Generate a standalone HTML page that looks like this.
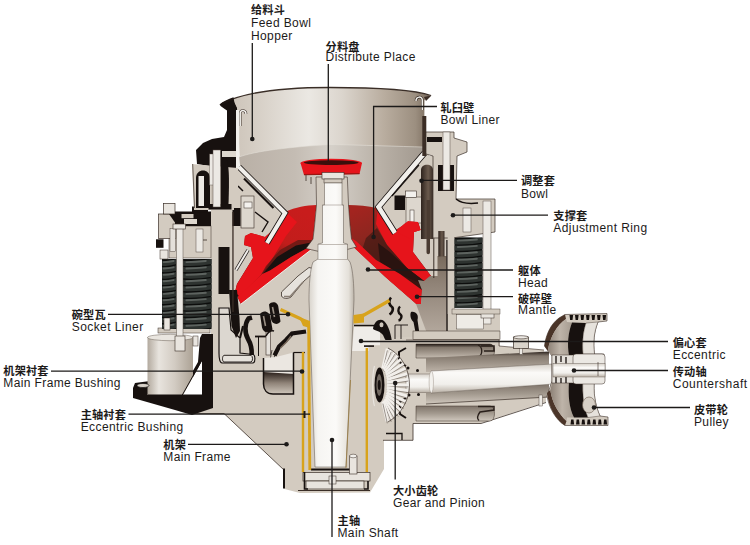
<!DOCTYPE html>
<html><head><meta charset="utf-8"><title>Cone Crusher</title>
<style>
html,body{margin:0;padding:0;background:#fff;}
body{width:750px;height:545px;overflow:hidden;font-family:"Liberation Sans",sans-serif;}
svg{display:block}
text{font-family:"Liberation Sans",sans-serif;fill:#1c1a19;}
text.cjk{font-family:"Liberation Sans","Noto Sans CJK SC",sans-serif;font-weight:bold;font-size:11.2px;fill:#1c1a19;}
</style></head><body>
<svg width="750" height="545" viewBox="0 0 750 545">
<defs>

<linearGradient id="gHop" x1="0" x2="1" y1="0" y2="0">
 <stop offset="0" stop-color="#c9c0b5"/><stop offset="0.12" stop-color="#d2cac0"/>
 <stop offset="0.42" stop-color="#ebe8e3"/><stop offset="0.58" stop-color="#dbd5cd"/>
 <stop offset="0.78" stop-color="#b9ad9f"/><stop offset="0.93" stop-color="#9c8f80"/><stop offset="1" stop-color="#78695b"/>
</linearGradient>
<linearGradient id="gCone" x1="0" x2="1" y1="0" y2="0">
 <stop offset="0" stop-color="#b9b0a6"/><stop offset="0.3" stop-color="#c4bcb3"/>
 <stop offset="0.5" stop-color="#d5d0c9"/><stop offset="0.75" stop-color="#bab2a8"/><stop offset="1" stop-color="#a1988e"/>
</linearGradient>
<linearGradient id="gShaft" x1="0" x2="1" y1="0" y2="0">
 <stop offset="0" stop-color="#d9d4cc"/><stop offset="0.2" stop-color="#f6f5f2"/>
 <stop offset="0.6" stop-color="#fbfaf8"/><stop offset="0.88" stop-color="#e4e0d9"/><stop offset="1" stop-color="#bdb5aa"/>
</linearGradient>
<linearGradient id="gCyl" x1="0" x2="1" y1="0" y2="0">
 <stop offset="0" stop-color="#b3aa9f"/><stop offset="0.25" stop-color="#e8e4de"/>
 <stop offset="0.6" stop-color="#d2cbc2"/><stop offset="1" stop-color="#aca295"/>
</linearGradient>
<linearGradient id="gCS" x1="0" x2="0" y1="0" y2="1">
 <stop offset="0" stop-color="#d6d0c8"/><stop offset="0.3" stop-color="#fbfaf8"/>
 <stop offset="0.7" stop-color="#f1efeb"/><stop offset="1" stop-color="#b9b0a5"/>
</linearGradient>
<linearGradient id="gCav" x1="0" x2="0" y1="0" y2="1">
 <stop offset="0" stop-color="#2a201b"/><stop offset="0.5" stop-color="#8f8378"/><stop offset="1" stop-color="#cfc7bc"/>
</linearGradient>
<linearGradient id="gCavR" x1="0" x2="0" y1="1" y2="0">
 <stop offset="0" stop-color="#2a201b"/><stop offset="0.5" stop-color="#8f8378"/><stop offset="1" stop-color="#cfc7bc"/>
</linearGradient>
<linearGradient id="gRedL" x1="0.7" x2="0.25" y1="0" y2="1">
 <stop offset="0" stop-color="#c81c1c"/><stop offset="0.35" stop-color="#c21d1b"/><stop offset="0.62" stop-color="#6b1c15"/><stop offset="0.8" stop-color="#3a130f"/>
</linearGradient>
<linearGradient id="gRedR" x1="0.2" x2="0.6" y1="0" y2="1">
 <stop offset="0" stop-color="#a3241f"/><stop offset="0.3" stop-color="#8c261f"/><stop offset="0.55" stop-color="#5a2019"/><stop offset="0.8" stop-color="#3a1510"/>
</linearGradient>
<linearGradient id="gSpring" x1="0" x2="1" y1="0" y2="0">
 <stop offset="0" stop-color="#151515"/><stop offset="0.35" stop-color="#505050"/><stop offset="0.6" stop-color="#2a2a2a"/><stop offset="1" stop-color="#101010"/>
</linearGradient>
<linearGradient id="gBar" x1="0" x2="1" y1="0" y2="0">
 <stop offset="0" stop-color="#2f241e"/><stop offset="0.6" stop-color="#6a5a4d"/><stop offset="1" stop-color="#3a2e27"/>
</linearGradient>
<linearGradient id="gTaupe" x1="0" x2="0" y1="0" y2="1">
 <stop offset="0" stop-color="#786a5c"/><stop offset="0.35" stop-color="#908377"/><stop offset="1" stop-color="#b5aa9f"/>
</linearGradient>

<linearGradient id="gPock" x1="0" x2="0" y1="0" y2="1">
 <stop offset="0" stop-color="#1f1713"/><stop offset="0.25" stop-color="#82776c"/><stop offset="0.7" stop-color="#a99f94"/><stop offset="1" stop-color="#c4bbb0"/>
</linearGradient>
<linearGradient id="gBore" x1="0" x2="0" y1="0" y2="1">
 <stop offset="0" stop-color="#2a201b"/><stop offset="0.22" stop-color="#857a6f"/><stop offset="1" stop-color="#bdb3a8"/>
</linearGradient>
<linearGradient id="gBore2" x1="0" x2="0" y1="0" y2="1">
 <stop offset="0" stop-color="#7f746a"/><stop offset="0.5" stop-color="#a39a8f"/><stop offset="1" stop-color="#d0c8be"/>
</linearGradient>
<linearGradient id="gPulIn" x1="0" x2="1" y1="0" y2="0">
 <stop offset="0" stop-color="#8d8176"/><stop offset="0.5" stop-color="#beb4a9"/><stop offset="1" stop-color="#a59b90"/>
</linearGradient>

</defs>
<rect width="750" height="545" fill="#ffffff"/>
<polygon points="213,336 213,408 195,408 195,413.5 224,413.5 284.5,470.5 284.5,489 300,493 370,492.5 384,469 384,440 413,440 413,423 480,423 540,402 546,396 546,352 500,352 500,313 452,313 452,233 428,233 428,290 233,290 233,336" fill="#d3cbc0" />
<path d="M195,413.5 L224,413.5 L284.5,470.5" fill="none" stroke="#3a2e27" stroke-width="0.8" />
<rect x="211" y="205" width="22" height="135" fill="#d3cbc0" />
<rect x="428" y="156" width="27" height="180" fill="#d3cbc0" />
<polygon points="233,166 239,166 286,212 266,245 233,300" fill="#d3cbc0" />
<polygon points="429,154 424,152 377,207 397,240 429,290" fill="#d3cbc0" />
<path d="M221,104 C245,91 290,87.5 330,87.5 C375,87.5 415,90 430,95.5 L424.5,100 L424,153 L377,208 L284,212 L240,166 L237.5,110 Z" fill="url(#gHop)" />
<path d="M239,157 C255,151 290,147 330,144.5 C360,145 400,146.5 424,147 L424,153 L377,208 L284,212 L240,166 Z" fill="url(#gCone)" />
<path d="M239,157 C255,151 290,147 330,144.5 C360,145 400,146.5 424,147" fill="none" stroke="#e4e0da" stroke-width="0.8" opacity="0.7"/>
<path d="M221,104 C245,91 290,87.5 330,87.5 C375,87.5 415,90 431,95.5" fill="none" stroke="#3a2e27" stroke-width="1.3" />
<polygon points="424,97 431.5,95.5 426,101" fill="#3b2d25" />
<path d="M219.5,104.6 C223,101.5 228,99 233.5,97.3 L234.5,103 L237.5,110.5 L227,110.5 C224,108.5 221,107 219.5,104.6 Z" fill="#1d1512" />
<path d="M240.2,126 L240.2,113 C240.2,109.5 246,109.5 246,114" fill="none" stroke="#3a2e27" stroke-width="2.6" />
<path d="M240.2,126 L240.2,113 C240.2,109.5 246,109.5 246,114" fill="none" stroke="#f2f0ec" stroke-width="1.5" />
<path d="M422.3,110 L422.3,100 C422.3,96 416,96 416,101" fill="none" stroke="#3a2e27" stroke-width="2.6" />
<path d="M422.3,110 L422.3,100 C422.3,96 416,96 416,101" fill="none" stroke="#f2f0ec" stroke-width="1.5" />
<polygon points="233,214 284,214 300,209.5 330,207 360,207.5 377,210 429,210 429,340 233,340" fill="#d3cbc0" />
<path d="M285,212 C296,207 306,205.5 316.5,205 L314.5,226 L313,240 L312,249 L241,304 L237,296 L235,292 L237,284 L253,258 L251,247 L244,245 L245,236 L251,233 L265,237 L273,230 Z" fill="url(#gRedL)" />
<path d="M377,208 C368,206 358,205.3 348,205 L350,225 L351,238 L351,245 L385,277 L416,304 L421,304 L422,290 L424,282 L430,280 L431,276 L413,252 L414,232 L420.5,230 L418,222 L408,221 L402,226 L396,230 Z" fill="url(#gRedR)" />
<polygon points="286,212 297,222 286,236 274,256 262,274 240,297 235,292 237,284 253,258 251,247 244,245 245,236 251,233 265,237 273,230" fill="#e6141b" />
<polygon points="378,207 396,230 402,226 408,221 418,222 420.5,230 414,232 413,252 431,276 430,280 424,281 407,268 387,245 376,224" fill="#e6141b" />
<polygon points="312,240 298,240 280,250 266,266 258,280 270,271 292,258 312,246" fill="#5a1a14" opacity="0.75"/>
<polygon points="311,242.5 296,245.5 277,257 261,276 270,270.5 291,257 311,246" fill="#17110f" />
<polygon points="377,228 387,245 407,268 424,281 424,283 400,274 376,260 362,250 366,238" fill="#4a1b15" opacity="0.8"/>
<polygon points="378,243 390,252 407,268 424,281 421,283.5 400,274.5 380,262" fill="#2a1310" />
<polygon points="313,240 312,249 241,304 237.5,297 262,274 270,270.5 291,257 311,246" fill="#e6141b" />
<polygon points="351,238 356,241 376,260 400,274 422,290 421,304 416,304 385,277 351,245" fill="#e6141b" />
<polygon points="312,249 241,304 245,320 258,340 330,340 330,250" fill="#d3cbc0" />
<polygon points="351,245 385,277 416,304 428,336 330,340 330,250" fill="#cfc7bc" />
<path d="M312,249 L241,304" fill="none" stroke="#efece7" stroke-width="1" />
<path d="M281.5,292 L298,276 L309,267.5 L313,268.5 L312,274 L304,281 L291,297 C288,299 283,299 281.5,296 Z" fill="#e6e2dc" stroke="#3a2e27" stroke-width="0.8" />
<path d="M284,296.5 L290,296.5 L303,282" fill="none" stroke="#8a7f75" stroke-width="1.4" />
<path d="M248,250 L236,270" fill="none" stroke="#17110f" stroke-width="3.4" />
<path d="M248,250 L236,270" fill="none" stroke="#f1efeb" stroke-width="2" />
<path d="M239,167 L285,213 L267,243" fill="none" stroke="#17110f" stroke-width="5.8" />
<path d="M239,167 L285,213 L267,243" fill="none" stroke="#f1efeb" stroke-width="4.2" />
<path d="M244,178.5 L273.5,208" fill="none" stroke="#17110f" stroke-width="2.2" />
<path d="M238,186 L243,191" fill="none" stroke="#17110f" stroke-width="1.5" />
<rect x="241" y="196" width="13" height="32" fill="#ddd7ce" stroke="#3a2e27" stroke-width="0.6" />
<rect x="244" y="202" width="8" height="6" fill="#f3f1ed" stroke="#3a2e27" stroke-width="0.5" />
<rect x="232.5" y="208" width="8" height="18" fill="#17110f" />
<path d="M255,212 L268,222 L262,232" fill="none" stroke="#17110f" stroke-width="1.4" />
<path d="M424.5,153 L378.5,207 L395,233" fill="none" stroke="#17110f" stroke-width="6.2" />
<path d="M424.5,153 L378.5,207 L395,233" fill="none" stroke="#f1efeb" stroke-width="4.6" />
<path d="M392,196 L419,165" fill="none" stroke="#17110f" stroke-width="1.2" />
<rect x="406" y="197" width="19" height="26" fill="#ddd7ce" stroke="#3a2e27" stroke-width="0.5" />
<rect x="405.5" y="191" width="11" height="6.5" fill="#f3f1ed" stroke="#3a2e27" stroke-width="0.6" />
<rect x="394.5" y="195.5" width="10.5" height="14.5" fill="#17110f" />
<rect x="410" y="210" width="4" height="12" fill="#f3f1ed" stroke="#3a2e27" stroke-width="0.5" />
<polygon points="402,226 408,221 418,222 420.5,230 414,232 413,240 396,232" fill="#e6141b" />
<polygon points="316,177 316.5,205 314.5,226 313,239 306,248.5 330,254 356.5,247 351.5,239 350,225 348.5,205 347.3,177" fill="#d3cbc0" stroke="#3a2e27" stroke-width="0.6" />
<polygon points="300.5,163 362,163 359.5,174 304,175" fill="#e6141b" />
<ellipse cx="331.2" cy="163" rx="30.8" ry="4.2" fill="#e6141b"/>
<ellipse cx="331.2" cy="162.6" rx="27.5" ry="2.4" fill="#3c0f0c"/>
<path d="M304,174.7 L359.5,173.7" fill="none" stroke="#9a1613" stroke-width="1.2" />
<rect x="322" y="172.5" width="22" height="6.5" fill="#e9e5df" stroke="#3a2e27" stroke-width="0.6" />
<rect x="324" y="179" width="18" height="4" fill="#d3cbc0" stroke="#3a2e27" stroke-width="0.5" />
<path d="M306,175 L306,181 M311,177 L311,184" fill="none" stroke="#3a2e27" stroke-width="0.8" />
<path d="M219,308 L229,308 L231,330 L240,338 L240,353 L253,354.5 C255.5,355 255.5,362.5 253,363 L222,363 C219.5,362.5 219,358 219,353 Z" fill="#dcd7d0" stroke="#17110f" stroke-width="1.2" />
<path d="M224,355.3 L251,355.3 C253,356 253,361.5 251,362 L224,362 C222,361.5 222,356 224,355.3 Z" fill="#e6e2dc" stroke="#17110f" stroke-width="0.9" />
<polygon points="229,290 237,290 239.5,318 240,331 236,338 231.5,326" fill="#17110f" />
<path d="M252,317.5 L248.5,318.5 C244.5,324 244.5,333 248,339 C251,344 252,349 251.7,355" fill="none" stroke="#17110f" stroke-width="4.6" />
<path d="M243,326 L240,338" fill="none" stroke="#17110f" stroke-width="2" />
<path d="M260,314 C263,309.5 270,311 270.5,318 L272.5,329.5 C270,334 263.5,333.5 262,327.5 Z" fill="#17110f" />
<path d="M269,304.5 C272,300.5 278.5,302 278.5,308 L280.5,321.5 C278,325.5 272,324.5 271,319 Z" fill="#17110f" />
<path d="M263.5,316 L265.5,326" fill="none" stroke="#9a8f84" stroke-width="1.6" />
<path d="M272.5,307 L274.5,317" fill="none" stroke="#9a8f84" stroke-width="1.6" />
<path d="M255,336.5 L266,336.5" fill="none" stroke="#17110f" stroke-width="1.8" />
<rect x="266" y="332" width="4.6" height="23" fill="#e4e0da" stroke="#3a2e27" stroke-width="0.6" />
<path d="M258.5,337 L258.5,356" fill="none" stroke="#17110f" stroke-width="1" />
<path d="M266,336 C268,332 271,330 274,331" fill="none" stroke="#17110f" stroke-width="1.6" />
<path d="M306,331.5 L292,333.5 L286,340 L279,346.5 L274.5,355.5" fill="none" stroke="#17110f" stroke-width="4.2" />
<path d="M291,336 L286.5,342 L280.5,348" fill="none" stroke="#7a6a5c" stroke-width="1.4" />
<path d="M272,350 L270,360 M275,351 L274,361" fill="none" stroke="#17110f" stroke-width="0.7" />
<path d="M263.5,358 L263.5,384 C263.5,390 267,394 273,394 L293.5,394 L293.5,352.5 L276,357 Z" fill="#ebe7e1" />
<path d="M263.5,372 L293.5,374 L293.5,394 L273,394 C267,394 263.5,390 263.5,384 Z" fill="url(#gCav)" />
<path d="M263.5,358 L263.5,384 C263.5,390 267,394 273,394 L293.5,394 L293.5,352.5" fill="none" stroke="#17110f" stroke-width="1.5" />
<path d="M293.5,352.5 L305,352.5" fill="none" stroke="#17110f" stroke-width="1.2" />
<polygon points="354,327 380,327 380,345.3 368.5,345.3 368.5,351 352,351" fill="#efece8" />
<path d="M354,325.5 L380,325.5" fill="none" stroke="#17110f" stroke-width="1.4" />
<path d="M373,329 C374,321 380,318 384,321 C389,326 391,334 392.5,345 C388,345 385,340 383,335 C380,331 376,331 373,329 Z" fill="#17110f" />
<ellipse cx="381.5" cy="324.8" rx="2" ry="2.5" fill="#cfc7bc"/>
<path d="M391,297.5 C388,301 389,305 392,307 C394,309 392,313 389.5,314.5" fill="none" stroke="#17110f" stroke-width="2.6" />
<path d="M400,306.5 C397.5,309 398,313 400.5,314.5 C402.5,316 401,320 398.5,320.5" fill="none" stroke="#17110f" stroke-width="2.4" />
<path d="M411,312 C416,311 419,315 417.5,320 L419.5,334 L416,335 L413.5,322 C411,320 409.5,315 411,312 Z" fill="#17110f" />
<path d="M392.5,345 L392.5,352 L399,356 L399,362" fill="none" stroke="#17110f" stroke-width="2.6" />
<path d="M395,325 L395,339 M401,325 L401,339 M395,325 L408,325" fill="none" stroke="#17110f" stroke-width="0.9" />
<rect x="364" y="345.3" width="10" height="1.6" fill="#17110f" />
<rect x="303" y="472.5" width="67" height="8.5" fill="#e8e4de" stroke="#3a2e27" stroke-width="0.7" />
<rect x="306" y="481" width="58" height="8" fill="#e8e4de" stroke="#3a2e27" stroke-width="0.7" />
<path d="M298,490.5 L370,490.5" fill="none" stroke="#3a2e27" stroke-width="1" />
<path d="M304.5,472 L304.5,489 L308,489 M368,481 L368,489 L364,489" fill="none" stroke="#17110f" stroke-width="1.6" />
<path d="M311,469.5 L350,469.5" fill="none" stroke="#17110f" stroke-width="2" />
<rect x="283" y="468.5" width="2" height="20" fill="#17110f" />
<rect x="349.5" y="456" width="7.5" height="18" fill="#e9e5df" stroke="#3a2e27" stroke-width="0.6" />
<ellipse cx="353.2" cy="456" rx="3.7" ry="1.8" fill="#f1efeb" stroke="#3a2e27" stroke-width="0.5"/>
<rect x="329" y="476" width="7" height="8" fill="#e9e5df" stroke="#3a2e27" stroke-width="0.5" />
<path d="M324.5,183 L342,183 L342,205 L343.5,205 L343.5,243 L347.5,244 L347.5,259 L350,262 C353,270 354,285 354,300 L346,467 L315,467 L309,300 C309,285 310,270 313,262 L318,259 L318,244 L322.5,243 L322.5,205 L324.5,205 Z" fill="url(#gShaft)" stroke="#5b5048" stroke-width="0.5" />
<path d="M318,244.5 L347.5,244.5 M322.5,205 L343.5,205 M318,259.5 L347.5,259.5" fill="none" stroke="#8a7f75" stroke-width="0.5" />
<path d="M280.5,309.5 L300,318.5 L307,323" fill="none" stroke="#d8a31c" stroke-width="3.2" />
<path d="M308.6,321 L309.8,470" fill="none" stroke="#d8a31c" stroke-width="2.8" />
<polygon points="299,317 310,321 310,328 303,326" fill="#d8a31c" />
<path d="M303,352 L303,472" fill="none" stroke="#d8a31c" stroke-width="2.4" />
<path d="M389.5,300.5 L364,315 L356,319.5" fill="none" stroke="#d8a31c" stroke-width="3.2" />
<polygon points="353.5,315 364,313.5 364,322.5 353.5,323.5" fill="#d8a31c" />
<path d="M366.8,348 L366.8,472" fill="none" stroke="#d8a31c" stroke-width="2.4" />
<path d="M350.5,380 L346,468" fill="none" stroke="#9a7a3a" stroke-width="0.8" />
<polygon points="133,388 135,383 150,381 150,395 178,397 198,362 200,338 202,334 213,334 213,408 192,415 175,410 133,398" fill="#17110f" />
<rect x="147.5" y="337" width="45.5" height="58" fill="url(#gCyl)" />
<polygon points="202,361 202,396 182.5,396" fill="#fff" />
<ellipse cx="170.2" cy="337.5" rx="22.7" ry="3.2" fill="#e9e5df" stroke="#6b6057" stroke-width="0.5"/>
<polygon points="202,394.5 202,397 148,397 148,394.5" fill="#17110f" />
<path d="M202.5,359 L182,395.5" fill="none" stroke="#17110f" stroke-width="1" />
<rect x="158" y="328" width="52" height="5" fill="#d3cbc0" stroke="#3a2e27" stroke-width="0.5" />
<ellipse cx="143" cy="385.5" rx="6" ry="2" fill="#d9d3ca" stroke="#000" stroke-width="0.6"/>
<g><clipPath id="cl162"><rect x="162" y="259" width="14.5" height="70"/></clipPath>
<rect x="162" y="259" width="14.5" height="70" fill="#0c0d0c" />
<g clip-path="url(#cl162)"><path d="M161,256.72 Q169.2,257.92 177.5,254.92" fill="none" stroke="#2e3330" stroke-width="4.96"/><path d="M163.7,255.72 Q168.5,255.68 173.6,254.60" fill="none" stroke="#5d635f" stroke-width="1.91" stroke-linecap="round"/><path d="M161,263.08 Q169.2,264.28 177.5,261.28" fill="none" stroke="#2e3330" stroke-width="4.96"/><path d="M163.7,262.09 Q168.5,262.05 173.6,260.97" fill="none" stroke="#5d635f" stroke-width="1.91" stroke-linecap="round"/><path d="M161,269.45 Q169.2,270.65 177.5,267.65" fill="none" stroke="#2e3330" stroke-width="4.96"/><path d="M163.7,268.45 Q168.5,268.41 173.6,267.33" fill="none" stroke="#5d635f" stroke-width="1.91" stroke-linecap="round"/><path d="M161,275.81 Q169.2,277.01 177.5,274.01" fill="none" stroke="#2e3330" stroke-width="4.96"/><path d="M163.7,274.81 Q168.5,274.77 173.6,273.70" fill="none" stroke="#5d635f" stroke-width="1.91" stroke-linecap="round"/><path d="M161,282.17 Q169.2,283.37 177.5,280.37" fill="none" stroke="#2e3330" stroke-width="4.96"/><path d="M163.7,281.18 Q168.5,281.14 173.6,280.06" fill="none" stroke="#5d635f" stroke-width="1.91" stroke-linecap="round"/><path d="M161,288.54 Q169.2,289.74 177.5,286.74" fill="none" stroke="#2e3330" stroke-width="4.96"/><path d="M163.7,287.54 Q168.5,287.50 173.6,286.42" fill="none" stroke="#5d635f" stroke-width="1.91" stroke-linecap="round"/><path d="M161,294.90 Q169.2,296.10 177.5,293.10" fill="none" stroke="#2e3330" stroke-width="4.96"/><path d="M163.7,293.90 Q168.5,293.86 173.6,292.79" fill="none" stroke="#5d635f" stroke-width="1.91" stroke-linecap="round"/><path d="M161,301.26 Q169.2,302.46 177.5,299.46" fill="none" stroke="#2e3330" stroke-width="4.96"/><path d="M163.7,300.27 Q168.5,300.23 173.6,299.15" fill="none" stroke="#5d635f" stroke-width="1.91" stroke-linecap="round"/><path d="M161,307.63 Q169.2,308.83 177.5,305.83" fill="none" stroke="#2e3330" stroke-width="4.96"/><path d="M163.7,306.63 Q168.5,306.59 173.6,305.51" fill="none" stroke="#5d635f" stroke-width="1.91" stroke-linecap="round"/><path d="M161,313.99 Q169.2,315.19 177.5,312.19" fill="none" stroke="#2e3330" stroke-width="4.96"/><path d="M163.7,312.99 Q168.5,312.95 173.6,311.88" fill="none" stroke="#5d635f" stroke-width="1.91" stroke-linecap="round"/><path d="M161,320.35 Q169.2,321.55 177.5,318.55" fill="none" stroke="#2e3330" stroke-width="4.96"/><path d="M163.7,319.36 Q168.5,319.32 173.6,318.24" fill="none" stroke="#5d635f" stroke-width="1.91" stroke-linecap="round"/><path d="M161,326.72 Q169.2,327.92 177.5,324.92" fill="none" stroke="#2e3330" stroke-width="4.96"/><path d="M163.7,325.72 Q168.5,325.68 173.6,324.60" fill="none" stroke="#5d635f" stroke-width="1.91" stroke-linecap="round"/><path d="M161,333.08 Q169.2,334.28 177.5,331.28" fill="none" stroke="#2e3330" stroke-width="4.96"/><path d="M163.7,332.09 Q168.5,332.05 173.6,330.97" fill="none" stroke="#5d635f" stroke-width="1.91" stroke-linecap="round"/></g></g>
<g><clipPath id="cl183"><rect x="183" y="259" width="28.5" height="70"/></clipPath>
<rect x="183" y="259" width="28.5" height="70" fill="#0c0d0c" />
<g clip-path="url(#cl183)"><path d="M182,256.72 Q197.2,257.92 212.5,254.92" fill="none" stroke="#2e3330" stroke-width="4.96"/><path d="M186.4,255.72 Q195.8,255.68 205.8,254.60" fill="none" stroke="#5d635f" stroke-width="1.91" stroke-linecap="round"/><path d="M182,263.08 Q197.2,264.28 212.5,261.28" fill="none" stroke="#2e3330" stroke-width="4.96"/><path d="M186.4,262.09 Q195.8,262.05 205.8,260.97" fill="none" stroke="#5d635f" stroke-width="1.91" stroke-linecap="round"/><path d="M182,269.45 Q197.2,270.65 212.5,267.65" fill="none" stroke="#2e3330" stroke-width="4.96"/><path d="M186.4,268.45 Q195.8,268.41 205.8,267.33" fill="none" stroke="#5d635f" stroke-width="1.91" stroke-linecap="round"/><path d="M182,275.81 Q197.2,277.01 212.5,274.01" fill="none" stroke="#2e3330" stroke-width="4.96"/><path d="M186.4,274.81 Q195.8,274.77 205.8,273.70" fill="none" stroke="#5d635f" stroke-width="1.91" stroke-linecap="round"/><path d="M182,282.17 Q197.2,283.37 212.5,280.37" fill="none" stroke="#2e3330" stroke-width="4.96"/><path d="M186.4,281.18 Q195.8,281.14 205.8,280.06" fill="none" stroke="#5d635f" stroke-width="1.91" stroke-linecap="round"/><path d="M182,288.54 Q197.2,289.74 212.5,286.74" fill="none" stroke="#2e3330" stroke-width="4.96"/><path d="M186.4,287.54 Q195.8,287.50 205.8,286.42" fill="none" stroke="#5d635f" stroke-width="1.91" stroke-linecap="round"/><path d="M182,294.90 Q197.2,296.10 212.5,293.10" fill="none" stroke="#2e3330" stroke-width="4.96"/><path d="M186.4,293.90 Q195.8,293.86 205.8,292.79" fill="none" stroke="#5d635f" stroke-width="1.91" stroke-linecap="round"/><path d="M182,301.26 Q197.2,302.46 212.5,299.46" fill="none" stroke="#2e3330" stroke-width="4.96"/><path d="M186.4,300.27 Q195.8,300.23 205.8,299.15" fill="none" stroke="#5d635f" stroke-width="1.91" stroke-linecap="round"/><path d="M182,307.63 Q197.2,308.83 212.5,305.83" fill="none" stroke="#2e3330" stroke-width="4.96"/><path d="M186.4,306.63 Q195.8,306.59 205.8,305.51" fill="none" stroke="#5d635f" stroke-width="1.91" stroke-linecap="round"/><path d="M182,313.99 Q197.2,315.19 212.5,312.19" fill="none" stroke="#2e3330" stroke-width="4.96"/><path d="M186.4,312.99 Q195.8,312.95 205.8,311.88" fill="none" stroke="#5d635f" stroke-width="1.91" stroke-linecap="round"/><path d="M182,320.35 Q197.2,321.55 212.5,318.55" fill="none" stroke="#2e3330" stroke-width="4.96"/><path d="M186.4,319.36 Q195.8,319.32 205.8,318.24" fill="none" stroke="#5d635f" stroke-width="1.91" stroke-linecap="round"/><path d="M182,326.72 Q197.2,327.92 212.5,324.92" fill="none" stroke="#2e3330" stroke-width="4.96"/><path d="M186.4,325.72 Q195.8,325.68 205.8,324.60" fill="none" stroke="#5d635f" stroke-width="1.91" stroke-linecap="round"/><path d="M182,333.08 Q197.2,334.28 212.5,331.28" fill="none" stroke="#2e3330" stroke-width="4.96"/><path d="M186.4,332.09 Q195.8,332.05 205.8,330.97" fill="none" stroke="#5d635f" stroke-width="1.91" stroke-linecap="round"/></g></g>
<g><clipPath id="cl454"><rect x="454.4" y="237.5" width="28.100000000000023" height="70.5"/></clipPath>
<rect x="454.4" y="237.5" width="28.100000000000023" height="70.5" fill="#0c0d0c" />
<g clip-path="url(#cl454)"><path d="M453.4,235.20 Q468.4,236.40 483.5,233.40" fill="none" stroke="#2e3330" stroke-width="5.00"/><path d="M457.8,234.19 Q467.0,234.15 476.9,233.08" fill="none" stroke="#5d635f" stroke-width="1.92" stroke-linecap="round"/><path d="M453.4,241.60 Q468.4,242.80 483.5,239.80" fill="none" stroke="#2e3330" stroke-width="5.00"/><path d="M457.8,240.60 Q467.0,240.56 476.9,239.49" fill="none" stroke="#5d635f" stroke-width="1.92" stroke-linecap="round"/><path d="M453.4,248.01 Q468.4,249.21 483.5,246.21" fill="none" stroke="#2e3330" stroke-width="5.00"/><path d="M457.8,247.01 Q467.0,246.97 476.9,245.89" fill="none" stroke="#5d635f" stroke-width="1.92" stroke-linecap="round"/><path d="M453.4,254.42 Q468.4,255.62 483.5,252.62" fill="none" stroke="#2e3330" stroke-width="5.00"/><path d="M457.8,253.42 Q467.0,253.38 476.9,252.30" fill="none" stroke="#5d635f" stroke-width="1.92" stroke-linecap="round"/><path d="M453.4,260.83 Q468.4,262.03 483.5,259.03" fill="none" stroke="#2e3330" stroke-width="5.00"/><path d="M457.8,259.83 Q467.0,259.79 476.9,258.71" fill="none" stroke="#5d635f" stroke-width="1.92" stroke-linecap="round"/><path d="M453.4,267.24 Q468.4,268.44 483.5,265.44" fill="none" stroke="#2e3330" stroke-width="5.00"/><path d="M457.8,266.24 Q467.0,266.20 476.9,265.12" fill="none" stroke="#5d635f" stroke-width="1.92" stroke-linecap="round"/><path d="M453.4,273.65 Q468.4,274.85 483.5,271.85" fill="none" stroke="#2e3330" stroke-width="5.00"/><path d="M457.8,272.65 Q467.0,272.61 476.9,271.53" fill="none" stroke="#5d635f" stroke-width="1.92" stroke-linecap="round"/><path d="M453.4,280.06 Q468.4,281.26 483.5,278.26" fill="none" stroke="#2e3330" stroke-width="5.00"/><path d="M457.8,279.06 Q467.0,279.02 476.9,277.94" fill="none" stroke="#5d635f" stroke-width="1.92" stroke-linecap="round"/><path d="M453.4,286.47 Q468.4,287.67 483.5,284.67" fill="none" stroke="#2e3330" stroke-width="5.00"/><path d="M457.8,285.47 Q467.0,285.43 476.9,284.35" fill="none" stroke="#5d635f" stroke-width="1.92" stroke-linecap="round"/><path d="M453.4,292.88 Q468.4,294.08 483.5,291.08" fill="none" stroke="#2e3330" stroke-width="5.00"/><path d="M457.8,291.88 Q467.0,291.84 476.9,290.76" fill="none" stroke="#5d635f" stroke-width="1.92" stroke-linecap="round"/><path d="M453.4,299.29 Q468.4,300.49 483.5,297.49" fill="none" stroke="#2e3330" stroke-width="5.00"/><path d="M457.8,298.29 Q467.0,298.25 476.9,297.17" fill="none" stroke="#5d635f" stroke-width="1.92" stroke-linecap="round"/><path d="M453.4,305.70 Q468.4,306.90 483.5,303.90" fill="none" stroke="#2e3330" stroke-width="5.00"/><path d="M457.8,304.69 Q467.0,304.65 476.9,303.58" fill="none" stroke="#5d635f" stroke-width="1.92" stroke-linecap="round"/><path d="M453.4,312.10 Q468.4,313.30 483.5,310.30" fill="none" stroke="#2e3330" stroke-width="5.00"/><path d="M457.8,311.10 Q467.0,311.06 476.9,309.99" fill="none" stroke="#5d635f" stroke-width="1.92" stroke-linecap="round"/></g></g>
<rect x="176.5" y="259" width="6.5" height="70" fill="#0e0e0e" />
<rect x="169" y="226" width="42" height="32" fill="#d3cbc0" stroke="#3a2e27" stroke-width="0.5" />
<rect x="158.5" y="214" width="17.5" height="24.5" fill="#d3cbc0" stroke="#3a2e27" stroke-width="0.7" />
<polygon points="169,214 176,214 176,224" fill="#17110f" />
<rect x="163.5" y="203.5" width="11.5" height="10.5" fill="#e9e5df" stroke="#3a2e27" stroke-width="0.7" />
<rect x="156" y="239.3" width="7.5" height="8.5" fill="#17110f" />
<rect x="160" y="250" width="8" height="9" fill="#e9e5df" stroke="#3a2e27" stroke-width="0.5" />
<rect x="175" y="211.5" width="36" height="14.5" fill="#17110f" />
<rect x="181.5" y="214" width="12" height="4.2" fill="#d3cbc0" />
<rect x="184" y="219" width="13" height="5" fill="#ddd7ce" />
<rect x="192" y="206.5" width="16" height="6" fill="#17110f" />
<rect x="170" y="228.5" width="5.5" height="23" fill="#e4e0da" stroke="#3a2e27" stroke-width="0.4" />
<rect x="176.5" y="228" width="6.5" height="122" fill="#ece9e4" stroke="#5b5048" stroke-width="0.5" />
<rect x="173" y="224" width="12.5" height="5" fill="#e9e5df" stroke="#3a2e27" stroke-width="0.6" />
<rect x="175" y="336" width="10" height="15" fill="#e9e5df" stroke="#3a2e27" stroke-width="0.6" />
<rect x="164" y="318" width="6" height="12" fill="#e9e5df" stroke="#3a2e27" stroke-width="0.5" />
<rect x="193" y="336" width="5" height="10" fill="#e9e5df" stroke="#3a2e27" stroke-width="0.5" />
<rect x="196" y="229" width="7" height="23" fill="#ece9e4" stroke="#5b5048" stroke-width="0.5" />
<path d="M203,240 L207,240" fill="none" stroke="#3a2e27" stroke-width="0.8" />
<polygon points="221,105 227,110 227,130 224,137 212,139 203,143 196,150 197,164 221,168 237,168 237,108 233,100" fill="#17110f" />
<polygon points="192,164 238,168 238,190 234,190 234,210 211,210 194,210" fill="#d3cbc0" />
<path d="M192.7,164 L194.5,208" fill="none" stroke="#3a2e27" stroke-width="0.7" />
<path d="M196,208 L196,178 C196,168 210,168 210,178 L210,208 Z" fill="#17110f" />
<rect x="198.5" y="176" width="5.5" height="30" fill="#ece9e4" />
<rect x="211" y="170" width="10" height="38" fill="#c9c0b5" />
<path d="M220.7,158 L226,158 C229,165 229.5,175 228.5,204 L220.7,204 Z" fill="#17110f" />
<rect x="208.5" y="204" width="23" height="5.5" fill="#17110f" />
<rect x="209.6" y="154" width="4" height="31" fill="#ece9e4" stroke="#5b5048" stroke-width="0.4" />
<rect x="213" y="150" width="7.5" height="57" fill="#ece9e4" stroke="#5b5048" stroke-width="0.5" />
<rect x="222" y="151" width="15" height="6" fill="#ddd7ce" />
<rect x="236" y="110" width="3.2" height="58" fill="#f1efeb" />
<rect x="218.5" y="247" width="11" height="47" fill="#17110f" />
<rect x="232.3" y="212" width="1.3" height="100" fill="#3a2e27" />
<rect x="422.3" y="116" width="4" height="40" fill="#3b2d25" />
<polygon points="426,132 454,132 454,138 467,142 467,152 457,156 456,199 495,199 495,232 452,238 433,238 433,156 426,154" fill="#d3cbc0" stroke="#3a2e27" stroke-width="0.7" />
<rect x="427" y="137" width="15" height="5" fill="#17110f" />
<path d="M421,239 L421,170 C421,163 433,163 433,170 L433,239 Z" fill="url(#gBar)" />
<rect x="438" y="165" width="16" height="26" fill="#17110f" />
<rect x="443" y="132" width="7" height="58" fill="#ece9e4" stroke="#5b5048" stroke-width="0.5" />
<rect x="463" y="208" width="8" height="24" fill="#ece9e4" stroke="#5b5048" stroke-width="0.5" />
<rect x="483" y="201" width="8" height="123" fill="#ece9e4" stroke="#5b5048" stroke-width="0.5" />
<rect x="456.5" y="314.5" width="27" height="14.5" fill="#eeebe6" stroke="#3a2e27" stroke-width="0.4" />
<rect x="481" y="311" width="13" height="7" fill="#e9e5df" stroke="#3a2e27" stroke-width="0.5" />
<path d="M456,199 C462,204 470,204 478,203" fill="none" stroke="#17110f" stroke-width="1.6" />
<path d="M426.5,200 L426.5,252 C426.5,255 430,255 430,252 L430,200 Z" fill="#4a3b31" />
<polygon points="418,280 424,281 430,276 437.5,276 437.5,256 446.5,256 446.5,336 428,336 416,304 421,304 422,290" fill="url(#gTaupe)" />
<rect x="438.3" y="231" width="6.2" height="25.5" fill="url(#gBar)" />
<rect x="446.3" y="240" width="1.4" height="95" fill="#17110f" />
<rect x="447.7" y="236" width="6.5" height="78" fill="#d3cbc0" />
<rect x="452" y="309" width="48" height="5" fill="#d3cbc0" stroke="#3a2e27" stroke-width="0.4" />
<rect x="433.3" y="238" width="1" height="40" fill="#3a2e27" />
<polygon points="406,340 499,340 499,346 544,350 546,402 481,423 413,423 413,440 383,440 383,340" fill="#d3cbc0" />
<rect x="413" y="331" width="87" height="8.5" fill="#d3cbc0" stroke="#3a2e27" stroke-width="0.5" />
<path d="M406,340 L499,340 L499,346 L544,350" fill="none" stroke="#3a2e27" stroke-width="0.6" />
<path d="M383,440.3 L413,440.3 L413,423.5 L481,423.5 L546,402.5" fill="none" stroke="#3a2e27" stroke-width="0.8" />
<path d="M386,433.5 L402,433.5 L402,440" fill="none" stroke="#17110f" stroke-width="1.3" />
<path d="M416,344 L490,344 C496,344 496,358 490,358 L416,358 Z" fill="url(#gPock)" stroke="#3a2e27" stroke-width="0.5" />
<path d="M478,345 C483,347 483,355 478,357.5" fill="none" stroke="#2a201b" stroke-width="1.3" />
<path d="M481,346 L494,346 L494,351 L484,351" fill="none" stroke="#2a201b" stroke-width="1.6" />
<polygon points="426,358 549,351.5 549,365 431,372 426,372" fill="url(#gBore)" />
<polygon points="426,393 431,393 549,384 549,397 426,404" fill="url(#gBore2)" />
<path d="M426,404 L549,397" fill="none" stroke="#3a2e27" stroke-width="0.7" />
<path d="M416,406 L490,406 C496,406 496,421 490,421 L416,421 Z" fill="url(#gBore2)" stroke="#3a2e27" stroke-width="0.5" />
<path d="M478,406.5 L494,406.5 L494,410 L480,412 C477,416 477,419 479,420.5" fill="none" stroke="#2a201b" stroke-width="1.5" />
<rect x="406" y="374" width="26" height="18.5" fill="url(#gCS)" stroke="#5b5048" stroke-width="0.4" />
<polygon points="431,371 553,364 553,384 431,393" fill="url(#gCS)" stroke="#5b5048" stroke-width="0.4" />
<ellipse cx="431.3" cy="382" rx="2.2" ry="11" fill="#f3f1ed" stroke="#8a7f75" stroke-width="0.4"/>
<circle cx="408" cy="368" r="1.5" fill="#17110f"/>
<circle cx="417.5" cy="370.5" r="1.5" fill="#17110f"/>
<circle cx="409" cy="395" r="1.5" fill="#17110f"/>
<circle cx="418.5" cy="394.5" r="1.5" fill="#17110f"/>
<path d="M406,348 L399,352 L399,362 L406,366 M406,398 L400,402 L400,414 L406,418" fill="none" stroke="#17110f" stroke-width="2" />
<rect x="513.5" y="337" width="15" height="11.5" fill="#d9d3ca" stroke="#3a2e27" stroke-width="0.7" />
<ellipse cx="521" cy="337.3" rx="7.5" ry="1.6" fill="#ece9e4" stroke="#3a2e27" stroke-width="0.6"/>
<rect x="519.5" y="348.5" width="3" height="6" fill="#ece9e4" stroke="#3a2e27" stroke-width="0.4" />
<rect x="539" y="395" width="3.5" height="11" fill="#ece9e4" stroke="#3a2e27" stroke-width="0.4" />
<line x1="382.9" y1="368.3" x2="387.4" y2="348.6" stroke="#f2efeb" stroke-width="3.2"/>
<line x1="382.9" y1="370.1" x2="387.4" y2="350.4" stroke="#5e544c" stroke-width="0.6"/>
<line x1="383.6" y1="368.9" x2="391.3" y2="350.0" stroke="#f2efeb" stroke-width="3.2"/>
<line x1="383.6" y1="370.7" x2="391.3" y2="351.8" stroke="#5e544c" stroke-width="0.6"/>
<line x1="384.3" y1="370.0" x2="394.9" y2="352.3" stroke="#f2efeb" stroke-width="3.2"/>
<line x1="384.3" y1="371.8" x2="394.9" y2="354.1" stroke="#5e544c" stroke-width="0.6"/>
<line x1="385.0" y1="371.4" x2="398.2" y2="355.3" stroke="#f2efeb" stroke-width="3.2"/>
<line x1="385.0" y1="373.2" x2="398.2" y2="357.1" stroke="#5e544c" stroke-width="0.6"/>
<line x1="385.6" y1="373.1" x2="401.2" y2="359.1" stroke="#f2efeb" stroke-width="3.2"/>
<line x1="385.6" y1="374.9" x2="401.2" y2="360.9" stroke="#5e544c" stroke-width="0.6"/>
<line x1="386.1" y1="375.1" x2="403.8" y2="363.5" stroke="#f2efeb" stroke-width="3.2"/>
<line x1="386.1" y1="376.9" x2="403.8" y2="365.3" stroke="#5e544c" stroke-width="0.6"/>
<line x1="386.5" y1="377.4" x2="405.8" y2="368.4" stroke="#f2efeb" stroke-width="3.2"/>
<line x1="386.5" y1="379.2" x2="405.8" y2="370.2" stroke="#5e544c" stroke-width="0.6"/>
<line x1="386.8" y1="379.8" x2="407.3" y2="373.8" stroke="#f2efeb" stroke-width="3.2"/>
<line x1="386.8" y1="381.6" x2="407.3" y2="375.6" stroke="#5e544c" stroke-width="0.6"/>
<line x1="386.9" y1="382.4" x2="408.2" y2="379.3" stroke="#f2efeb" stroke-width="3.2"/>
<line x1="386.9" y1="384.2" x2="408.2" y2="381.1" stroke="#5e544c" stroke-width="0.6"/>
<line x1="387.0" y1="385.0" x2="408.5" y2="385.1" stroke="#f2efeb" stroke-width="3.2"/>
<line x1="387.0" y1="386.8" x2="408.5" y2="386.9" stroke="#5e544c" stroke-width="0.6"/>
<line x1="386.9" y1="387.7" x2="408.2" y2="390.8" stroke="#f2efeb" stroke-width="3.2"/>
<line x1="386.9" y1="389.5" x2="408.2" y2="392.6" stroke="#5e544c" stroke-width="0.6"/>
<line x1="386.8" y1="390.2" x2="407.3" y2="396.4" stroke="#f2efeb" stroke-width="3.2"/>
<line x1="386.8" y1="392.0" x2="407.3" y2="398.2" stroke="#5e544c" stroke-width="0.6"/>
<line x1="386.5" y1="392.7" x2="405.8" y2="401.7" stroke="#f2efeb" stroke-width="3.2"/>
<line x1="386.5" y1="394.5" x2="405.8" y2="403.5" stroke="#5e544c" stroke-width="0.6"/>
<line x1="386.1" y1="394.9" x2="403.7" y2="406.6" stroke="#f2efeb" stroke-width="3.2"/>
<line x1="386.1" y1="396.7" x2="403.7" y2="408.4" stroke="#5e544c" stroke-width="0.6"/>
<line x1="385.6" y1="396.9" x2="401.2" y2="411.0" stroke="#f2efeb" stroke-width="3.2"/>
<line x1="385.6" y1="398.7" x2="401.2" y2="412.8" stroke="#5e544c" stroke-width="0.6"/>
<line x1="385.0" y1="398.7" x2="398.2" y2="414.7" stroke="#f2efeb" stroke-width="3.2"/>
<line x1="385.0" y1="400.5" x2="398.2" y2="416.5" stroke="#5e544c" stroke-width="0.6"/>
<line x1="384.3" y1="400.1" x2="394.8" y2="417.8" stroke="#f2efeb" stroke-width="3.2"/>
<line x1="384.3" y1="401.9" x2="394.8" y2="419.6" stroke="#5e544c" stroke-width="0.6"/>
<line x1="383.6" y1="401.1" x2="391.2" y2="420.0" stroke="#f2efeb" stroke-width="3.2"/>
<line x1="383.6" y1="402.9" x2="391.2" y2="421.8" stroke="#5e544c" stroke-width="0.6"/>
<line x1="382.9" y1="401.8" x2="387.3" y2="421.5" stroke="#f2efeb" stroke-width="3.2"/>
<line x1="382.9" y1="403.6" x2="387.3" y2="423.3" stroke="#5e544c" stroke-width="0.6"/>
<path d="M388,348 C402,355 409.5,370 409.5,385 C409.5,399 402,414 388,422" fill="none" stroke="#3a2e27" stroke-width="0.7" />
<ellipse cx="379.5" cy="385" rx="5" ry="17.5" fill="#17110f"/>
<ellipse cx="379.2" cy="385" rx="2.8" ry="11" fill="#70675f"/>
<ellipse cx="379.2" cy="385" rx="1.5" ry="5" fill="#17110f"/>
<path d="M374.5,366 C372,374 372,398 374.5,406" fill="none" stroke="#e8e4de" stroke-width="1.1" />
<path d="M544.5,346 C546,334 551,324 559,318 L565,314.5 L607,313.5 L607,321 L598,322 C594,332 593,342 594.5,354 L604,354 L604,377 L594.5,378 C593,392 595,405 600,416 L608,417 L608,425.5 L565,425.5 C556,420 549,408 547,396 L552,381 L552,356 Z" fill="#d3cbc0" stroke="#3a2e27" stroke-width="0.6" />
<path d="M544.5,346 C546,334 551,324 559,318 L565,314.5 L566,319 C557,325 550,337 547.8,351 Z" fill="#4a3428" />
<path d="M547,393 C549,408 556,420 565,425.5 L566.5,421 C559,414 552,403 550.3,390 Z" fill="#4a3428" />
<path d="M566,319 C557,325 550,337 547.8,351 L552,356 L569,356 C567,344 568,333 572,322.5 L567,322 Z" fill="url(#gPulIn)" />
<path d="M550.3,390 C552,403 559,414 566.5,421 L567,417.5 L574,417.5 C569,408 568,395 569,381 L552,383 Z" fill="url(#gPulIn)" />
<path d="M572,322.5 C568,333 567,344 569,356 L583,354 C582,342 583,332 586,323 Z" fill="#17110f" />
<path d="M569,381 C568,395 569,408 574,417.5 L588,417.5 C584,408 582,395 583,379 Z" fill="#17110f" />
<path d="M586,323 C583,332 582,342 583,354 L594.5,354 C593,342 594,332 598,322 Z" fill="#e6e2dc" stroke="#3a2e27" stroke-width="0.4" />
<path d="M583,379 C582,395 584,408 588,417.5 L600,416 C595,405 593,392 594.5,378 Z" fill="#e6e2dc" stroke="#3a2e27" stroke-width="0.4" />
<ellipse cx="589" cy="405" rx="6.5" ry="8" fill="#d6cfc6" stroke="#6a5a4d" stroke-width="0.6"/>
<polygon points="569.5,315 573.1,315 572.5,320 570.1,320" fill="#17110f" />
<polygon points="570.5,424.5 574.1,424.5 573.5,419.5 571.1,419.5" fill="#17110f" />
<polygon points="575.0,315 578.6,315 578.0,320 575.6,320" fill="#17110f" />
<polygon points="576.0,424.5 579.6,424.5 579.0,419.5 576.6,419.5" fill="#17110f" />
<polygon points="580.5,315 584.1,315 583.5,320 581.1,320" fill="#17110f" />
<polygon points="581.5,424.5 585.1,424.5 584.5,419.5 582.1,419.5" fill="#17110f" />
<polygon points="586.0,315 589.6,315 589.0,320 586.6,320" fill="#17110f" />
<polygon points="587.0,424.5 590.6,424.5 590.0,419.5 587.6,419.5" fill="#17110f" />
<polygon points="591.5,315 595.1,315 594.5,320 592.1,320" fill="#17110f" />
<polygon points="592.5,424.5 596.1,424.5 595.5,419.5 593.1,419.5" fill="#17110f" />
<polygon points="597.0,315 600.6,315 600.0,320 597.6,320" fill="#17110f" />
<polygon points="598.0,424.5 601.6,424.5 601.0,419.5 598.6,419.5" fill="#17110f" />
<polygon points="602.5,315 606.1,315 605.5,320 603.1,320" fill="#17110f" />
<polygon points="603.5,424.5 607.1,424.5 606.5,419.5 604.1,419.5" fill="#17110f" />
<rect x="552" y="355" width="22" height="28" fill="#e4e0da" stroke="#3a2e27" stroke-width="0.5" />
<path d="M556,356 L556,364 M561,356 L561,362 M566,357 L566,364 M556,383 L556,377 M561,383 L561,378 M566,383 L566,377" fill="none" stroke="#17110f" stroke-width="1.3" />
<rect x="573" y="354" width="32" height="30" fill="#ebe8e3" stroke="#3a2e27" stroke-width="0.5" rx="3"/>
<rect x="553" y="363.5" width="52" height="13.5" fill="url(#gCS)" stroke="#5b5048" stroke-width="0.4" />
<path d="M598,362 L598,376" fill="none" stroke="#3a2e27" stroke-width="0.6" />
<polyline points="252.3,43 252.3,139" fill="none" stroke="#1c1a19" stroke-width="1.3"/>
<circle cx="252.3" cy="139" r="2.3" fill="#1c1a19"/>
<polyline points="328.3,64 328.3,161" fill="none" stroke="#1c1a19" stroke-width="1.3"/>
<polyline points="437,106.5 373.6,106.5 373.6,237" fill="none" stroke="#1c1a19" stroke-width="1.3"/>
<circle cx="373.6" cy="237" r="2.3" fill="#1c1a19"/>
<polyline points="517,180.4 421.5,180.4" fill="none" stroke="#1c1a19" stroke-width="1.3"/>
<circle cx="421.5" cy="180.8" r="2.3" fill="#1c1a19"/>
<polyline points="548,215.2 453,215.2" fill="none" stroke="#1c1a19" stroke-width="1.3"/>
<circle cx="453" cy="215.2" r="2.3" fill="#1c1a19"/>
<polyline points="513,270 368,270" fill="none" stroke="#1c1a19" stroke-width="1.3"/>
<circle cx="368" cy="269.5" r="2.3" fill="#1c1a19"/>
<polyline points="513,296.7 417,296.7" fill="none" stroke="#1c1a19" stroke-width="1.3"/>
<circle cx="417" cy="296.7" r="2.3" fill="#1c1a19"/>
<polyline points="668,341.5 361,341.5" fill="none" stroke="#1c1a19" stroke-width="1.3"/>
<circle cx="361" cy="341" r="2.3" fill="#1c1a19"/>
<polyline points="668,370.5 574,370.5" fill="none" stroke="#1c1a19" stroke-width="1.3"/>
<circle cx="574" cy="370.5" r="2.3" fill="#1c1a19"/>
<polyline points="690,407.5 594,407.5" fill="none" stroke="#1c1a19" stroke-width="1.3"/>
<circle cx="594" cy="407.5" r="2.3" fill="#1c1a19"/>
<polyline points="395.2,479.5 395.2,383" fill="none" stroke="#1c1a19" stroke-width="1.3"/>
<circle cx="395.2" cy="383" r="2.3" fill="#1c1a19"/>
<polyline points="332,537 332,440" fill="none" stroke="#1c1a19" stroke-width="1.3"/>
<circle cx="332" cy="440" r="2.3" fill="#1c1a19"/>
<polyline points="188,444.3 286.5,444.3" fill="none" stroke="#1c1a19" stroke-width="1.3"/>
<circle cx="286.5" cy="444.3" r="2.3" fill="#1c1a19"/>
<polyline points="128.5,414.2 310,414.2" fill="none" stroke="#1c1a19" stroke-width="1.3"/>
<polyline points="304.5,411 304.5,418" fill="none" stroke="#1c1a19" stroke-width="2"/>
<polyline points="51,371.2 302,371.2" fill="none" stroke="#1c1a19" stroke-width="1.3"/>
<circle cx="302" cy="371.5" r="2.3" fill="#1c1a19"/>
<polyline points="108,314.3 288,314.3" fill="none" stroke="#1c1a19" stroke-width="1.3"/>
<circle cx="288" cy="314.3" r="2.3" fill="#1c1a19"/>
<text class="cjk" x="251" y="14" textLength="33.9" lengthAdjust="spacing">给料斗</text>
<text x="251" y="27.3" font-size="12" textLength="59.9" lengthAdjust="spacing">Feed Bowl</text>
<text x="251" y="39.5" font-size="12" textLength="41.3" lengthAdjust="spacing">Hopper</text>
<text class="cjk" x="325.6" y="50.5" textLength="33.9" lengthAdjust="spacing">分料盘</text>
<text x="325.6" y="61.3" font-size="12" textLength="89.8" lengthAdjust="spacing">Distribute Place</text>
<text class="cjk" x="440.4" y="111.5" textLength="33.9" lengthAdjust="spacing">轧臼壁</text>
<text x="440.4" y="124.1" font-size="12" textLength="59.1" lengthAdjust="spacing">Bowl Liner</text>
<text class="cjk" x="521" y="185" textLength="33.9" lengthAdjust="spacing">调整套</text>
<text x="521" y="197.8" font-size="12" textLength="27.0" lengthAdjust="spacing">Bowl</text>
<text class="cjk" x="553.3" y="219.8" textLength="33.9" lengthAdjust="spacing">支撑套</text>
<text x="553.3" y="232.4" font-size="12" textLength="93.8" lengthAdjust="spacing">Adjustment Ring</text>
<text class="cjk" x="518" y="274.7" textLength="22.6" lengthAdjust="spacing">躯体</text>
<text x="518" y="287.3" font-size="12" textLength="29.8" lengthAdjust="spacing">Head</text>
<text class="cjk" x="518" y="302.5" textLength="33.9" lengthAdjust="spacing">破碎壁</text>
<text x="518" y="314.3" font-size="12" textLength="38.2" lengthAdjust="spacing">Mantle</text>
<text class="cjk" x="672.7" y="346.7" textLength="33.9" lengthAdjust="spacing">偏心套</text>
<text x="672.7" y="359" font-size="12" textLength="52.8" lengthAdjust="spacing">Eccentric</text>
<text class="cjk" x="672.7" y="376" textLength="33.9" lengthAdjust="spacing">传动轴</text>
<text x="672.7" y="388.3" font-size="12" textLength="74.5" lengthAdjust="spacing">Countershaft</text>
<text class="cjk" x="694" y="413.7" textLength="33.9" lengthAdjust="spacing">皮带轮</text>
<text x="694" y="426" font-size="12" textLength="34.5" lengthAdjust="spacing">Pulley</text>
<text class="cjk" x="393" y="494.6" textLength="45.2" lengthAdjust="spacing">大小齿轮</text>
<text x="393" y="506.9" font-size="12" textLength="91.7" lengthAdjust="spacing">Gear and Pinion</text>
<text class="cjk" x="337.5" y="524.6" textLength="22.6" lengthAdjust="spacing">主轴</text>
<text x="337.5" y="537.4" font-size="12" textLength="60.7" lengthAdjust="spacing">Main Shaft</text>
<text class="cjk" x="163.3" y="448.8" textLength="22.6" lengthAdjust="spacing">机架</text>
<text x="163.3" y="460.7" font-size="12" textLength="67.2" lengthAdjust="spacing">Main Frame</text>
<text class="cjk" x="80.7" y="418.8" textLength="45.2" lengthAdjust="spacing">主轴衬套</text>
<text x="80.7" y="431" font-size="12" textLength="102.5" lengthAdjust="spacing">Eccentric Bushing</text>
<text class="cjk" x="3.3" y="375.4" textLength="45.2" lengthAdjust="spacing">机架衬套</text>
<text x="3.3" y="387.3" font-size="12" textLength="117.2" lengthAdjust="spacing">Main Frame Bushing</text>
<text class="cjk" x="71.7" y="318.6" textLength="33.9" lengthAdjust="spacing">碗型瓦</text>
<text x="71.7" y="330.7" font-size="12" textLength="71.5" lengthAdjust="spacing">Socket Liner</text>
</svg>
</body></html>
